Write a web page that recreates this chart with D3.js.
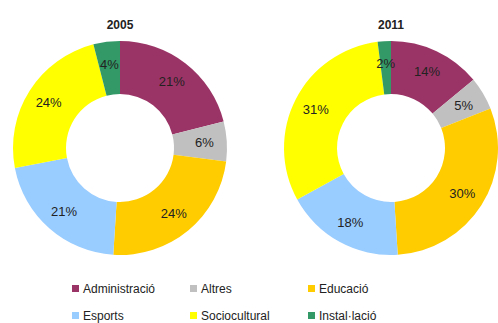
<!DOCTYPE html>
<html>
<head>
<meta charset="utf-8">
<script src="https://cdn.jsdelivr.net/npm/d3@7"></script>
<style>
  html, body { margin: 0; padding: 0; background: #fff; }
  svg { display: block; font-family: Arial, "Liberation Sans", sans-serif; }
</style>
</head>
<body>
<svg id="chart" width="498" height="323"></svg>
<script>
// Categories, in clockwise order from 12 o'clock
const categories = ["Administració", "Altres", "Educació", "Esports", "Sociocultural", "Instal·lació"];
const colors = ["#9b3466", "#c0c0c0", "#ffcc00", "#99ccff", "#ffff00", "#339966"];

// Share of each category (%)
const years = ["2005", "2011"];
const values2005 = [21, 6, 24, 21, 24, 4];
const values2011 = [14, 5, 30, 18, 31, 2];
const seriesValues = [values2005, values2011];

const svg = d3.select("#chart");

const color = d3.scaleOrdinal().domain(categories).range(colors);

const outerR = 107, innerR = 54;
const centers = d3.scalePoint().domain(years).range([120, 391]);
const cy = 148;

const pie = d3.pie().sort(null).value(d => d.value);
const arc = d3.arc().innerRadius(innerR).outerRadius(outerR);
const labelR = (innerR + outerR) / 2 + 4;
const labelArc = d3.arc().innerRadius(labelR).outerRadius(labelR);

years.forEach((year, i) => {
  const data = categories.map((c, j) => ({ category: c, value: seriesValues[i][j] }));
  const g = svg.append("g").attr("transform", `translate(${centers(year)},${cy})`);

  g.selectAll("path.slice")
    .data(pie(data))
    .join("path")
    .attr("class", "slice")
    .attr("d", arc)
    .attr("fill", d => color(d.data.category));

  g.selectAll("text.value")
    .data(pie(data))
    .join("text")
    .attr("class", "value")
    .attr("transform", d => `translate(${labelArc.centroid(d)})`)
    .attr("text-anchor", "middle")
    .attr("dy", "0.35em")
    .attr("font-size", 13)
    .attr("fill", "#222")
    .text(d => d.data.value + "%");

  svg.append("text")
    .attr("x", centers(year))
    .attr("y", 29)
    .attr("text-anchor", "middle")
    .attr("font-size", 12)
    .attr("font-weight", "bold")
    .attr("fill", "#222")
    .text(year);
});

// Legend: two rows of three
const legendX = d3.scalePoint().domain([0, 1, 2]).range([72, 308]);
const legendY = d3.scalePoint().domain([0, 1]).range([289, 316]);

const legend = svg.append("g")
  .selectAll("g")
  .data(categories)
  .join("g")
  .attr("transform", (d, i) => `translate(${legendX(i % 3)},${legendY(Math.floor(i / 3))})`);

legend.append("rect")
  .attr("x", 0).attr("y", -4)
  .attr("width", 7).attr("height", 7)
  .attr("fill", d => color(d));

legend.append("text")
  .attr("x", 11)
  .attr("y", 0)
  .attr("dy", "0.35em")
  .attr("font-size", 12)
  .attr("fill", "#222")
  .text(d => d);
</script>
</body>
</html>
